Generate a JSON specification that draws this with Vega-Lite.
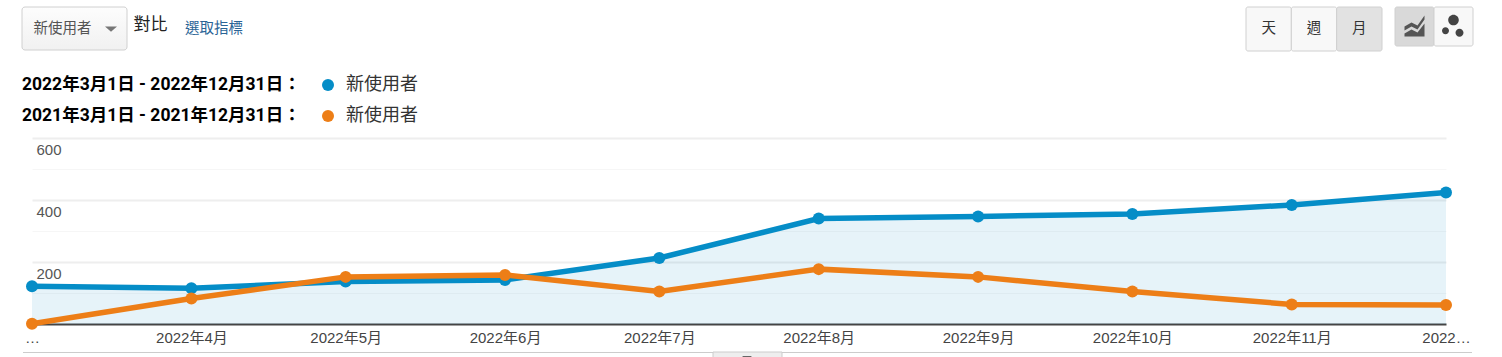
{
"$schema":"https://vega.github.io/schema/vega-lite/v6.json",
"width":1414,"height":186,
"autosize":{"type":"none"},
"padding":{"left":32,"top":138,"right":56,"bottom":33},
"background":"white",
"config":{"view":{"stroke":null},"font":"Noto Sans CJK TC"},
"datasets":{"users":[
{"month":"2022-03-01T00:00:00Z","period":"2022","users":122},
{"month":"2022-04-01T00:00:00Z","period":"2022","users":115},
{"month":"2022-05-01T00:00:00Z","period":"2022","users":137},
{"month":"2022-06-01T00:00:00Z","period":"2022","users":142},
{"month":"2022-07-01T00:00:00Z","period":"2022","users":213},
{"month":"2022-08-01T00:00:00Z","period":"2022","users":340},
{"month":"2022-09-01T00:00:00Z","period":"2022","users":347},
{"month":"2022-10-01T00:00:00Z","period":"2022","users":355},
{"month":"2022-11-01T00:00:00Z","period":"2022","users":384},
{"month":"2022-12-01T00:00:00Z","period":"2022","users":424},
{"month":"2022-03-01T00:00:00Z","period":"2021","users":1},
{"month":"2022-04-01T00:00:00Z","period":"2021","users":82},
{"month":"2022-05-01T00:00:00Z","period":"2021","users":152},
{"month":"2022-06-01T00:00:00Z","period":"2021","users":158},
{"month":"2022-07-01T00:00:00Z","period":"2021","users":105},
{"month":"2022-08-01T00:00:00Z","period":"2021","users":177},
{"month":"2022-09-01T00:00:00Z","period":"2021","users":152},
{"month":"2022-10-01T00:00:00Z","period":"2021","users":105},
{"month":"2022-11-01T00:00:00Z","period":"2021","users":63},
{"month":"2022-12-01T00:00:00Z","period":"2021","users":61}
]},
"resolve":{"scale":{"x":"independent","y":"independent"}},
"layer":[
{"data":{"name":"users"},
 "encoding":{
  "x":{"field":"month","type":"temporal","scale":{"type":"utc","domain":[{"year":2022,"month":3,"date":1,"utc":true},{"year":2022,"month":12,"date":1,"utc":true}]},
   "axis":{"title":null,"grid":false,"ticks":false,"domain":true,"domainColor":"#444444","domainWidth":2,
    "values":[{"year":2022,"month":3,"date":1,"utc":true},{"year":2022,"month":4,"date":1,"utc":true},{"year":2022,"month":5,"date":1,"utc":true},{"year":2022,"month":6,"date":1,"utc":true},{"year":2022,"month":7,"date":1,"utc":true},{"year":2022,"month":8,"date":1,"utc":true},{"year":2022,"month":9,"date":1,"utc":true},{"year":2022,"month":10,"date":1,"utc":true},{"year":2022,"month":11,"date":1,"utc":true},{"year":2022,"month":12,"date":1,"utc":true}],
    "labelExpr":"utcFormat(datum.value,'%-m')==='3'?'…':(utcFormat(datum.value,'%-m')==='12'?'2022…':utcFormat(datum.value,'%Y年%-m月'))",
    "labelFont":"Liberation Sans, Noto Sans CJK TC","labelFontSize":15,"labelColor":"#444444","labelPadding":6,"labelFlush":false,"labelOverlap":false,"labelBound":false,"labelAngle":0,"zindex":0}},
  "y":{"field":"users","type":"quantitative","scale":{"domain":[0,600],"nice":false},
   "axis":{"title":null,"domain":false,"ticks":false,"grid":true,"values":[100,200,300,400,500,600],
    "gridColor":{"condition":{"test":"datum.value % 200 === 0","value":"#eeeeee"},"value":"#f6f6f6"},
    "gridWidth":{"condition":{"test":"datum.value % 200 === 0","value":2},"value":1},
    "labelExpr":"datum.value % 200 === 0 ? datum.label : ''",
    "labelAlign":"left","labelBaseline":"top","labelPadding":-4,"labelOffset":4,"labelFont":"Liberation Sans","labelFontSize":15,"labelColor":"#555555","labelBound":false,"labelOverlap":false,"zindex":0}},
  "color":{"field":"period","type":"nominal","scale":{"domain":["2022","2021"],"range":["#058dc7","#ed7e17"]},
    "legend":{"orient":"none","legendX":-10,"legendY":-62,"direction":"vertical",
     "title":["2022年3月1日 - 2022年12月31日：","2021年3月1日 - 2021年12月31日："],"titleOrient":"left","titleFont":"Roboto, Noto Sans CJK TC","titleFontWeight":"bold","titleFontSize":17.5,"titleColor":"#000000","titleLineHeight":31,"titlePadding":18,"titleLimit":400,
     "symbolType":"circle","symbolSize":144,"symbolOpacity":1,"symbolStrokeWidth":0,
     "labelExpr":"'新使用者'","labelFontSize":18,"labelColor":"#333333","labelFont":"Noto Sans CJK TC","rowPadding":13,"labelOffset":9}}
 },
 "layer":[
  {"transform":[{"filter":"datum.period==='2022'"}],"mark":{"type":"area","color":"#058dc7","opacity":0.1}},
  {"transform":[{"filter":"datum.period==='2022'"}],"mark":{"type":"line","strokeWidth":5.5,"clip":false}},
  {"transform":[{"filter":"datum.period==='2022'"}],"mark":{"type":"point","filled":true,"size":144,"opacity":1,"clip":false}},
  {"transform":[{"filter":"datum.period==='2021'"}],"mark":{"type":"line","strokeWidth":5.5,"clip":false}},
  {"transform":[{"filter":"datum.period==='2021'"}],"mark":{"type":"point","filled":true,"size":144,"opacity":1,"clip":false}}
 ]
},
{"data":{"values":[{"control":"新使用者下拉選單","row":"a"}]},
 "mark":{"type":"rect","fill":{"gradient":"linear","x1":0,"y1":0,"x2":0,"y2":1,"stops":[{"offset":0,"color":"#fdfdfd"},{"offset":1,"color":"#f1f1f1"}]},"stroke":"#d0d0d0","cornerRadius":3,"clip":false},
 "encoding":{"x":{"field":"control","type":"nominal","axis":null,"scale":{"type":"band","padding":0,"range":[-10,95]}},"y":{"field":"row","type":"nominal","axis":null,"scale":{"type":"band","padding":0,"range":[-131,-88]}}}},
{"data":{"values":[{"label":"新使用者","row":"a"}]},
 "mark":{"type":"text","fontSize":14.5,"color":"#555555","baseline":"middle","clip":false},
 "encoding":{"text":{"field":"label"},"x":{"field":"label","type":"nominal","axis":null,"scale":{"type":"band","padding":0,"range":[1,60]}},"y":{"field":"row","type":"nominal","axis":null,"scale":{"type":"band","padding":0,"range":[-119,-99]}}}},
{"data":{"values":[{"control":"展開","row":"a"}]},
 "mark":{"type":"point","shape":"M-1,-.4L1,-.4L0,.45Z","filled":true,"color":"#777777","opacity":1,"size":144,"clip":false},
 "encoding":{"x":{"field":"control","type":"nominal","axis":null,"scale":{"type":"band","padding":0,"range":[74,84]}},"y":{"field":"row","type":"nominal","axis":null,"scale":{"type":"band","padding":0,"range":[-114,-104]}}}},
{"data":{"values":[{"label":"對比","row":"a"}]},
 "mark":{"type":"text","fontSize":17,"color":"#222222","baseline":"middle","clip":false},
 "encoding":{"text":{"field":"label"},"x":{"field":"label","type":"nominal","axis":null,"scale":{"type":"band","padding":0,"range":[101,136]}},"y":{"field":"row","type":"nominal","axis":null,"scale":{"type":"band","padding":0,"range":[-123,-103]}}}},
{"data":{"values":[{"label":"選取指標","row":"a"}]},
 "mark":{"type":"text","fontSize":14.5,"color":"#2a6496","baseline":"middle","clip":false},
 "encoding":{"text":{"field":"label"},"x":{"field":"label","type":"nominal","axis":null,"scale":{"type":"band","padding":0,"range":[152,212]}},"y":{"field":"row","type":"nominal","axis":null,"scale":{"type":"band","padding":0,"range":[-119,-99]}}}},
{"data":{"values":[{"label":"天","row":"a","selected":false},{"label":"週","row":"a","selected":false},{"label":"月","row":"a","selected":true}]},
 "encoding":{"x":{"field":"label","type":"nominal","sort":null,"axis":null,"scale":{"type":"band","padding":0,"range":[1214,1350]}},"y":{"field":"row","type":"nominal","axis":null,"scale":{"type":"band","padding":0,"range":[-131,-87]}}},
 "layer":[
  {"mark":{"type":"rect","stroke":"#d0d0d0","cornerRadius":2,"clip":false},"encoding":{"fill":{"condition":{"test":"datum.selected","value":"#e2e2e2"},"value":"#f8f8f8"}}},
  {"mark":{"type":"text","fontSize":14.5,"color":"#333333","baseline":"middle","clip":false},"encoding":{"text":{"field":"label"}}}
 ]},
{"data":{"values":[{"view":"趨勢","row":"a","selected":true},{"view":"動態","row":"a","selected":false}]},
 "encoding":{"x":{"field":"view","type":"nominal","sort":null,"axis":null,"scale":{"type":"band","padding":0,"range":[1363,1441]}},"y":{"field":"row","type":"nominal","axis":null,"scale":{"type":"band","padding":0,"range":[-131,-92]}}},
 "layer":[
  {"mark":{"type":"rect","stroke":"#d0d0d0","cornerRadius":2,"clip":false},"encoding":{"fill":{"condition":{"test":"datum.selected","value":"#d9d9d9"},"value":"#f8f8f8"}}},
  {"transform":[{"filter":"datum.selected"}],"mark":{"type":"point","filled":true,"opacity":1,"color":"#555555","size":400,"clip":false,"shape":"M-1,0L-.3,-.4L.3,-.1L1,-1.1L1,-.7L.3,.3L-.3,0L-1,.4ZM-1,.7L-.3,.3L.3,.6L1,-.3L1,1L-1,1Z"}},
  {"transform":[{"filter":"!datum.selected"}],"mark":{"type":"point","filled":true,"opacity":1,"color":"#444444","size":400,"clip":false,"shape":"M-.53,-.65A.53,.53 0 1,1 .53,-.65A.53,.53 0 1,1 -.53,-.65ZM-1.15,.42A.35,.35 0 1,1 -.45,.42A.35,.35 0 1,1 -1.15,.42ZM.2,.62A.4,.4 0 1,1 1,.62A.4,.4 0 1,1 .2,.62Z"}}
 ]},
{"data":{"values":[{"part":"頁尾分隔線","row":"a"}]},
 "mark":{"type":"rect","fill":"#cccccc","clip":false},
 "encoding":{"x":{"field":"part","type":"nominal","axis":null,"scale":{"type":"band","padding":0,"range":[-9,1440]}},"y":{"field":"row","type":"nominal","axis":null,"scale":{"type":"band","padding":0,"range":[214,215]}}}},
{"data":{"values":[{"part":"收合把手","row":"a"}]},
 "mark":{"type":"rect","fill":"#eeeeee","stroke":"#cccccc","clip":false},
 "encoding":{"x":{"field":"part","type":"nominal","axis":null,"scale":{"type":"band","padding":0,"range":[681,750]}},"y":{"field":"row","type":"nominal","axis":null,"scale":{"type":"band","padding":0,"range":[214,226]}}}},
{"data":{"values":[{"part":"收合箭頭","row":"a"}]},
 "mark":{"type":"point","shape":"M-1,-.4L1,-.4L0,.45Z","filled":true,"color":"#666666","opacity":1,"size":100,"clip":false},
 "encoding":{"x":{"field":"part","type":"nominal","axis":null,"scale":{"type":"band","padding":0,"range":[710,720]}},"y":{"field":"row","type":"nominal","axis":null,"scale":{"type":"band","padding":0,"range":[217,223]}}}}
]
}
